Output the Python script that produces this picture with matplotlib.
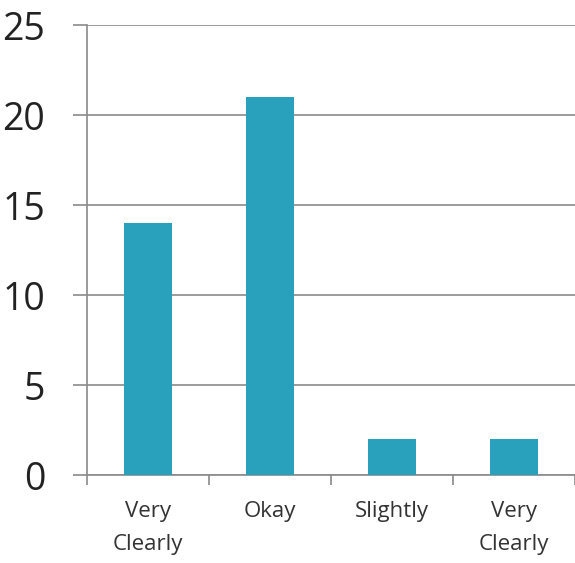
import matplotlib.pyplot as plt
import numpy as np

categories = ['Very\nClearly', 'Okay', 'Slightly', 'Very\nClearly']
values = [14, 21, 2, 2]
y_ticks = [0, 5, 10, 15, 20, 25]

plt.rcParams['font.family'] = ['Open Sans', 'DejaVu Sans']

fig = plt.figure(figsize=(5.75, 5.63), dpi=100)
fig.patch.set_facecolor('white')
ax = fig.add_axes([87 / 575, 1 - 475 / 563, 1 - 87 / 575, (475 - 25) / 563])

x = np.arange(len(categories)) + 0.5
ax.bar(x, values, width=0.4, color='#29a1bd', zorder=3)

ax.set_xlim(0, len(categories))
ax.set_ylim(0, 25)
ax.set_yticks(y_ticks)
ax.set_yticklabels([str(v) for v in y_ticks], fontsize=27, color='#222222')
ax.yaxis.grid(True, color='#8a8a8a', lw=1.2, zorder=0)
ax.tick_params(axis='y', length=10, width=1.2, color='#8a8a8a', pad=20)

ax.set_xticks(x)
ax.set_xticklabels(categories, fontsize=16, color='#333333', linespacing=1.7)
ax.set_xticks(np.arange(len(categories) + 1), minor=True)
ax.tick_params(axis='x', which='major', length=0, pad=19)
ax.tick_params(axis='x', which='minor', length=7, width=1.2, color='#8a8a8a')

for side in ['top', 'right']:
    ax.spines[side].set_visible(False)
for side in ['left', 'bottom']:
    ax.spines[side].set_color('#8a8a8a')
    ax.spines[side].set_linewidth(1.2)

fig.savefig('out.png', dpi=100, facecolor='white')
